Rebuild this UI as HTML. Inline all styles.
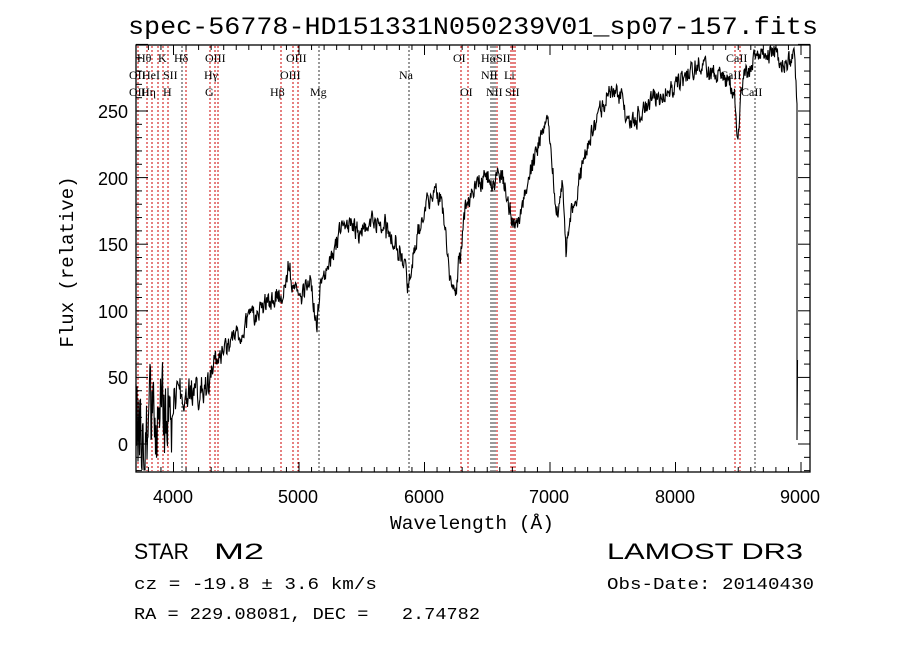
<!DOCTYPE html>
<html><head><meta charset="utf-8"><style>
body{margin:0;background:#fff;width:900px;height:649px;overflow:hidden}
svg{display:block}
text{fill:#000;white-space:pre}
.sa{font-family:"Liberation Sans",sans-serif}
.mo{font-family:"Liberation Mono",monospace}
.s{font-family:"Liberation Serif",serif;font-size:12px}
</style></head><body>
<svg id="c" width="900" height="649" viewBox="0 0 900 649" xmlns="http://www.w3.org/2000/svg" xml:space="preserve">
<text class="mo" x="128" y="34" font-size="25" textLength="690" lengthAdjust="spacingAndGlyphs">spec-56778-HD151331N050239V01_sp07-157.fits</text>
<g id="lines"></g>
<polyline id="sp" fill="none" stroke="#000" stroke-width="1.1" points=""/>
<rect x="136" y="45" width="674" height="427" fill="none" stroke="#000" stroke-width="1.3"/>
<g id="ticks" stroke="#000" stroke-width="1"></g>
<g class="sa" font-size="18" text-anchor="middle">
<text x="173" y="503">4000</text><text x="298" y="503">5000</text><text x="424" y="503">6000</text>
<text x="549" y="503">7000</text><text x="675" y="503">8000</text><text x="800" y="503">9000</text>
</g>
<g class="sa" font-size="18" text-anchor="end">
<text x="128" y="451">0</text><text x="128" y="384">50</text><text x="128" y="318">100</text>
<text x="128" y="251">150</text><text x="128" y="185">200</text><text x="128" y="118">250</text>
</g>
<text class="mo" x="390" y="529" font-size="19" textLength="164" lengthAdjust="spacingAndGlyphs">Wavelength (Å)</text>
<text class="mo" transform="translate(73,262) rotate(-90)" font-size="19" text-anchor="middle">Flux (relative)</text>
<g class="s">
<text x="137" y="62">Hθ</text><text x="158" y="62">K</text><text x="174" y="62">Hδ</text><text x="205" y="62">OIII</text>
<text x="286" y="62">OIII</text><text x="453" y="62">OI</text><text x="481" y="62">HαSII</text>
<text x="129" y="79">OII</text><text x="142" y="79">HeI</text><text x="163" y="79">SII</text><text x="204" y="79">Hγ</text>
<text x="280" y="79">OIII</text><text x="399" y="79">Na</text><text x="481" y="79">NII</text><text x="504" y="79">Li</text>
<text x="129" y="96">OII</text><text x="141" y="96">Hη</text><text x="163" y="96">H</text><text x="205" y="96">G</text>
<text x="270" y="96">Hβ</text><text x="310" y="96">Mg</text><text x="460" y="96">OI</text><text x="486" y="96">NII</text><text x="505" y="96">SII</text>
<text x="726" y="62">CaII</text><text x="720" y="79">CaII</text><text x="741" y="96">CaII</text>
</g>
<g class="sa" font-size="22"><text x="134" y="559" textLength="55" lengthAdjust="spacingAndGlyphs">STAR</text><text x="214" y="559" textLength="50" lengthAdjust="spacingAndGlyphs">M2</text><text x="607" y="559" textLength="196" lengthAdjust="spacingAndGlyphs">LAMOST DR3</text></g>
<g class="mo" font-size="17"><text x="134" y="589" textLength="243" lengthAdjust="spacingAndGlyphs">cz = -19.8 ± 3.6 km/s</text><text x="607" y="589" textLength="207" lengthAdjust="spacingAndGlyphs">Obs-Date: 20140430</text>
<text x="134" y="619" textLength="346" lengthAdjust="spacingAndGlyphs">RA = 229.08081, DEC =   2.74782</text></g>
</svg>
<script>
function X(l){return 173.5+(l-4000)*0.1255}
function Y(f){return 444-f*1.332}
var t=document.getElementById('ticks'),h='';
for(var l=3800;l<=9000;l+=100){var x=X(l),m=l%1000==0,L=m?10:5;h+='<line x1="'+x+'" y1="472" x2="'+x+'" y2="'+(472-L)+'"/><line x1="'+x+'" y1="45" x2="'+x+'" y2="'+(45+L)+'"/>';}
for(var f=-20;f<=300;f+=10){var y=Y(f),m=f%50==0,L=m?12:6;h+='<line x1="136" y1="'+y+'" x2="'+(136+L)+'" y2="'+y+'"/><line x1="810" y1="'+y+'" x2="'+(810-L)+'" y2="'+y+'"/>';}
t.innerHTML=h;
var lx=[[138,1],[147,1],[152,1],[158,1],[163,1],[168,1],[182,0],[186,1],[210,1],[215,1],[218,1],[281,1],[293,1],[298,1],[319,0],[409,0],[461,1],[468,1],[491,0],[493,0],[495,0],[497,1],[511,1],[513,1],[515,1],[735,1],[740,1],[755,0]];
h='';lx.forEach(function(a){h+='<line x1="'+a[0]+'" y1="46" x2="'+a[0]+'" y2="471" stroke="'+(a[1]?'#c00':'#333')+'" stroke-width="1" stroke-dasharray="2,2"/>';});
document.getElementById('lines').innerHTML=h;
var k=[[136,420],[170,420],[175,395],[210,390],[212,365],[230,345],[250,320],[270,300],[285,290],[289,262],[292,285],[300,300],[310,278],[317,330],[320,285],[330,262],[340,232],[350,222],[360,235],[370,226],[380,222],[390,230],[400,250],[408,285],[415,245],[425,205],[435,190],[440,195],[445,230],[450,280],[455,290],[460,262],[465,212],[475,186],[485,176],[495,180],[500,172],[505,185],[510,210],[515,232],[520,215],[530,175],[540,140],[548,120],[551,150],[555,198],[558,212],[562,182],[566,250],[570,215],[580,176],[590,140],[600,112],[610,92],[620,95],[625,110],[632,125],[640,112],[650,102],[660,96],[670,90],[680,82],[690,72],[700,62],[710,76],[720,72],[730,82],[735,100],[738,140],[741,92],[745,76],[755,60],[765,50],[775,56],[785,66],[795,58],[797,100]];
var seed=12345;function r(){seed=(seed*16807)%2147483647;return seed/2147483647-0.5}
var p=[],j=0,prev=0;
for(var x=136;x<=797;x+=0.5){while(j<k.length-2&&k[j+1][0]<x)j++;var a=k[j],b=k[j+1],u=(x-a[0])/(b[0]-a[0]);u=Math.max(0,Math.min(1,u));var y=a[1]+(b[1]-a[1])*u;var amp=x<172?90:(x<212?30:18);prev=0.4*prev+r()*amp;if(r()>0.45)prev+=r()*amp*0.8;y+=prev;p.push(x.toFixed(1)+','+Math.min(470,Math.max(46,y)).toFixed(1));}
p.push('797,440');p.push('797.5,360');
document.getElementById('sp').setAttribute('points',p.join(' '));
</script>
</body></html>
